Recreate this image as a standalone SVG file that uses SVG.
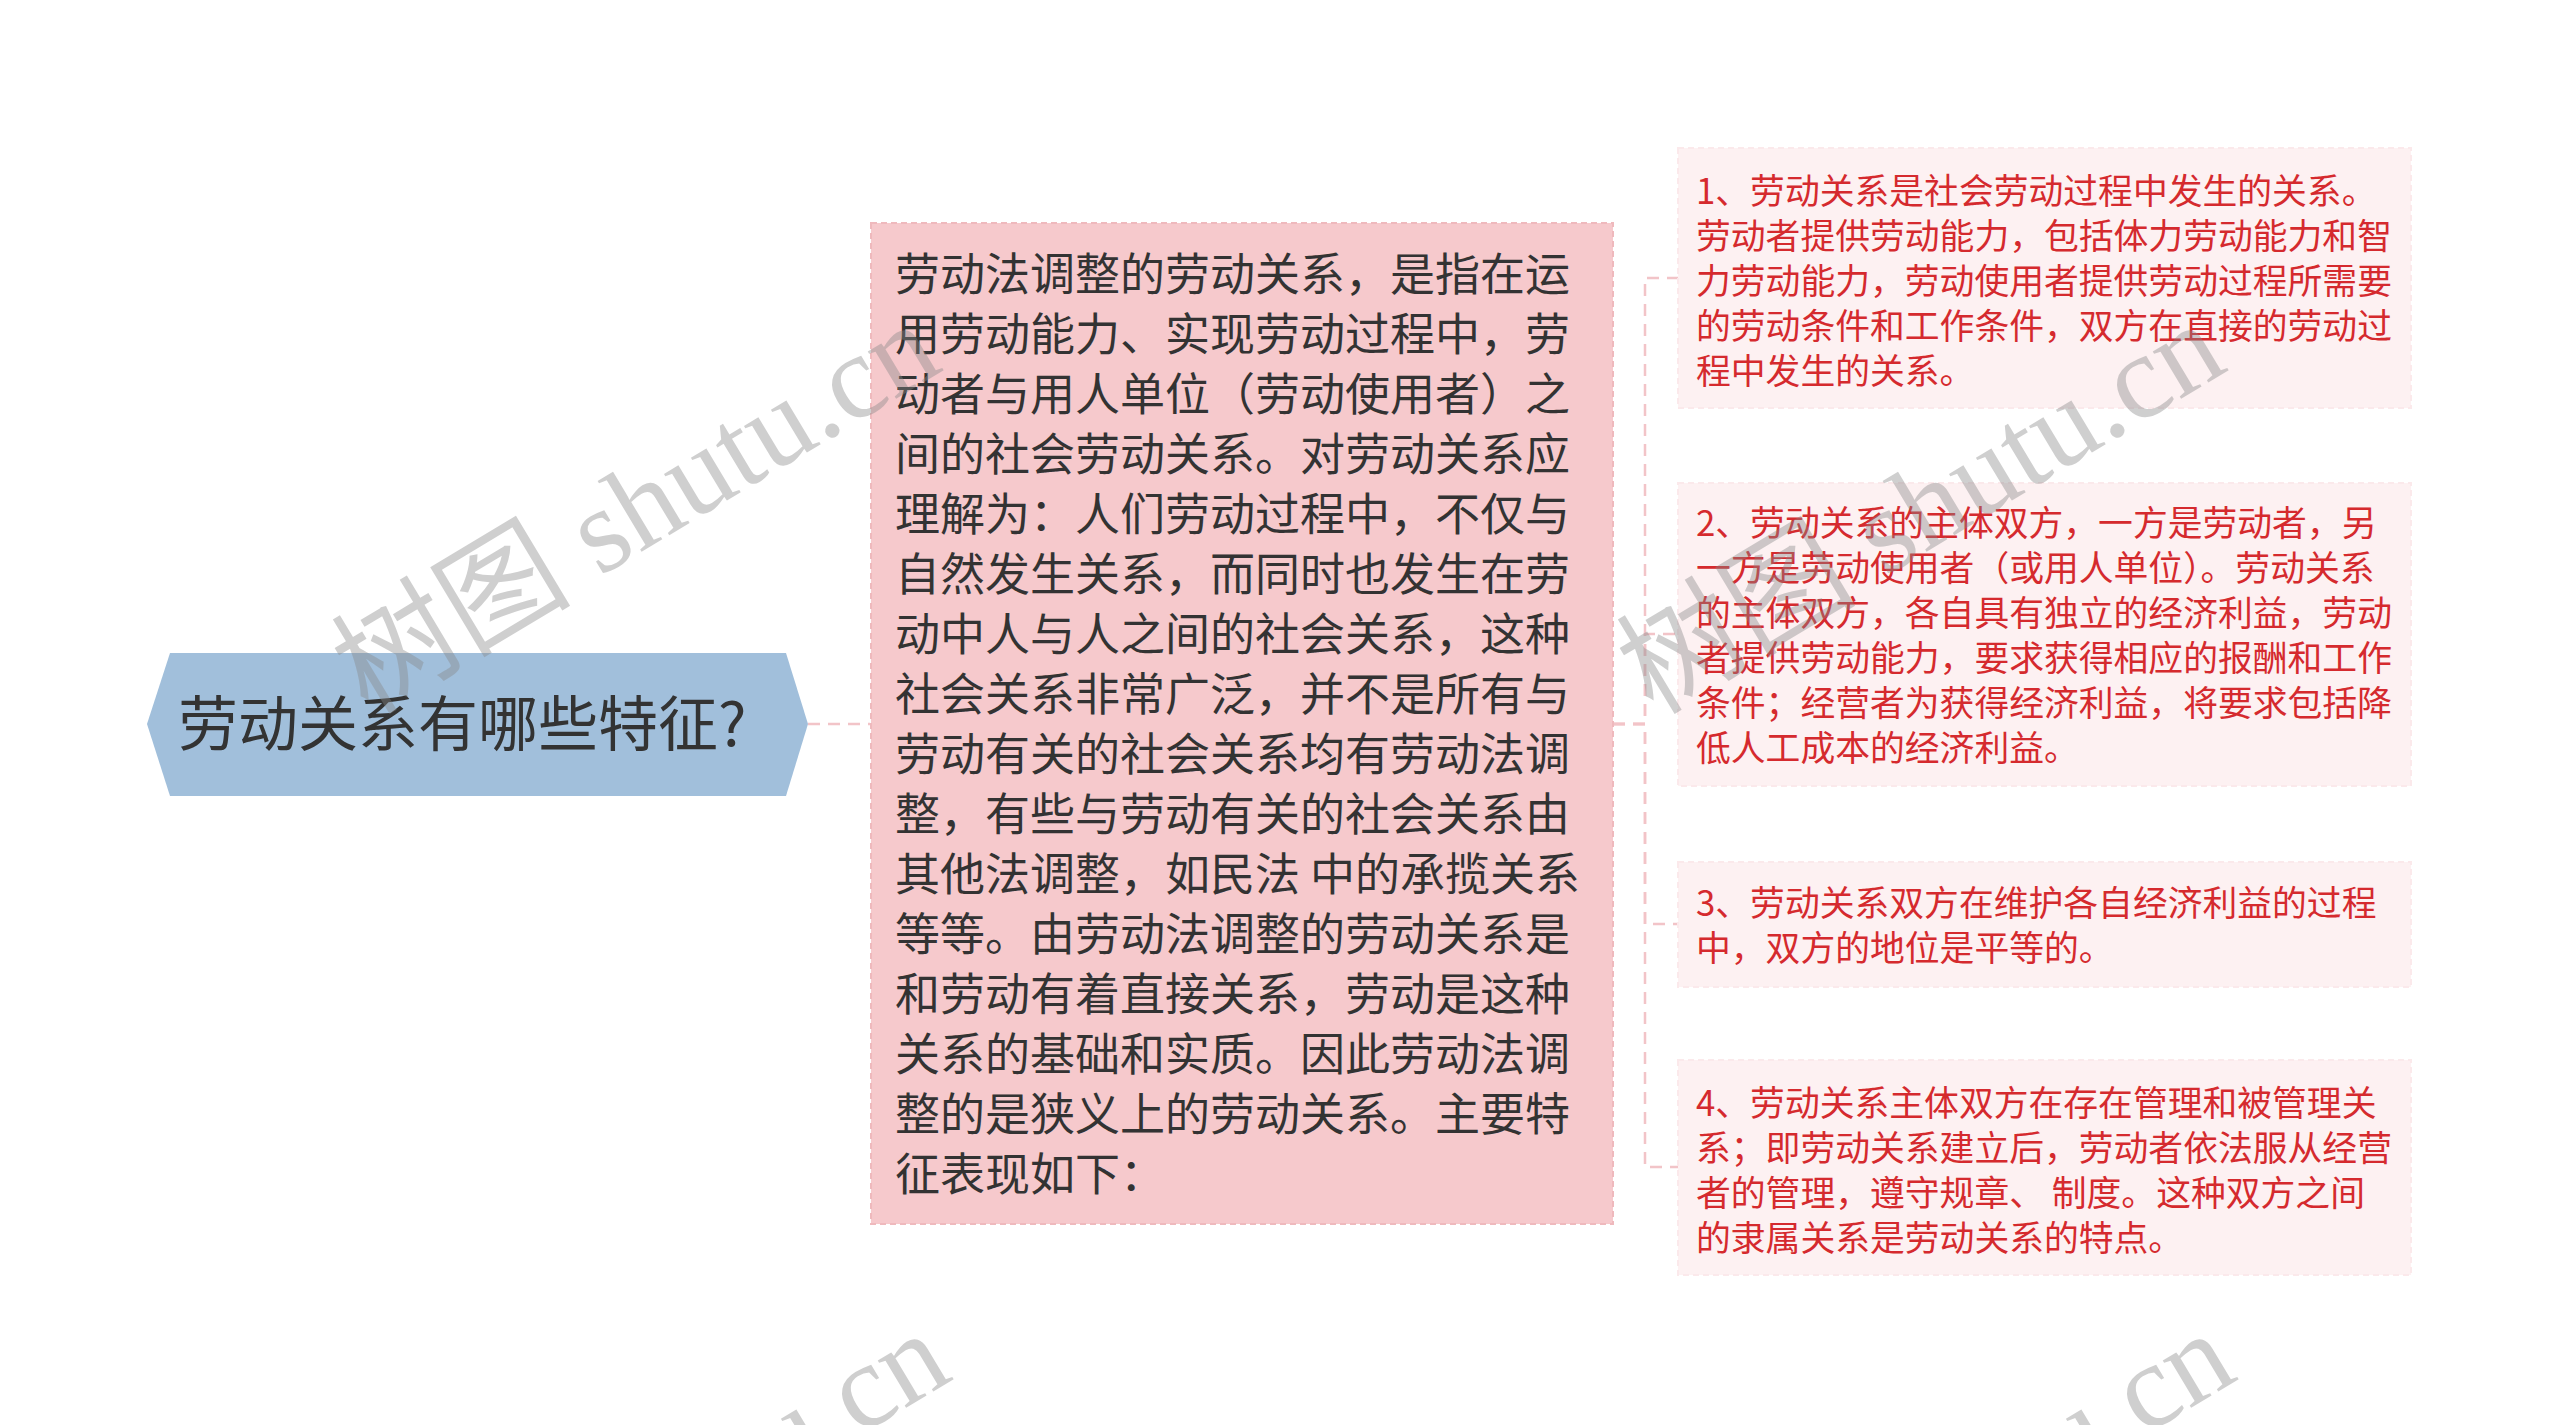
<svg xmlns="http://www.w3.org/2000/svg" width="2560" height="1425" viewBox="0 0 2560 1425">
<style>
.bg{fill:#ffffff}
.conn{fill:none;stroke:#f2c4c8;stroke-width:2.5;stroke-dasharray:12 8}
.root{fill:#a1bfdb}
.rootText{font-family:"Noto Sans CJK SC","Noto Sans",sans-serif;font-size:60px;fill:#333333}
.mid{fill:#f6c9cc;stroke:#efb9bd;stroke-width:2;stroke-dasharray:6 4}
.midText{font-family:"Noto Sans CJK SC","Noto Sans",sans-serif;font-size:45px;fill:#333333}
.leaf{fill:#fdf1f2;stroke:#fbe9eb;stroke-width:2;stroke-dasharray:6 4}
.leafText{font-family:"Noto Sans CJK SC","Noto Sans",sans-serif;font-size:34.8px;fill:#d52a2e}
.wm{font-family:"Liberation Serif","Noto Sans CJK SC",serif;font-size:120px;fill:#888888;opacity:0.4}
</style>
<rect class="bg" x="0" y="0" width="2560" height="1425"/>
<g id="connectors">
<path class="conn" d="M808 724 H870"/>
<path class="conn" d="M1613 724 H1645 V278 H1678"/>
<path class="conn" d="M1613 724 H1645 V634 H1678"/>
<path class="conn" d="M1613 724 H1645 V924 H1678"/>
<path class="conn" d="M1613 724 H1645 V1167 H1678"/>
</g>
<g id="node-root">
<polygon class="root" points="147,724 170,653 786,653 808,724 786,796 170,796"/>
<text class="rootText" x="178" y="746">劳动关系有哪些特征?</text>
</g>
<g id="node-main">
<rect class="mid" x="871" y="223" width="742" height="1001"/>
<text class="midText">
<tspan x="895" y="291">劳动法调整的劳动关系，是指在运</tspan>
<tspan x="895" y="351">用劳动能力、实现劳动过程中，劳</tspan>
<tspan x="895" y="411">动者与用人单位（劳动使用者）之</tspan>
<tspan x="895" y="471">间的社会劳动关系。对劳动关系应</tspan>
<tspan x="895" y="531">理解为：人们劳动过程中，不仅与</tspan>
<tspan x="895" y="591">自然发生关系，而同时也发生在劳</tspan>
<tspan x="895" y="651">动中人与人之间的社会关系，这种</tspan>
<tspan x="895" y="711">社会关系非常广泛，并不是所有与</tspan>
<tspan x="895" y="771">劳动有关的社会关系均有劳动法调</tspan>
<tspan x="895" y="831">整，有些与劳动有关的社会关系由</tspan>
<tspan x="895" y="891">其他法调整，如民法 中的承揽关系</tspan>
<tspan x="895" y="951">等等。由劳动法调整的劳动关系是</tspan>
<tspan x="895" y="1011">和劳动有着直接关系，劳动是这种</tspan>
<tspan x="895" y="1071">关系的基础和实质。因此劳动法调</tspan>
<tspan x="895" y="1131">整的是狭义上的劳动关系。主要特</tspan>
<tspan x="895" y="1191">征表现如下：</tspan>
</text>
</g>
<g id="node-1">
<rect class="leaf" x="1678" y="148" width="733" height="260"/>
<text class="leafText">
<tspan x="1696" y="204">1、劳动关系是社会劳动过程中发生的关系。</tspan>
<tspan x="1696" y="249">劳动者提供劳动能力，包括体力劳动能力和智</tspan>
<tspan x="1696" y="294">力劳动能力，劳动使用者提供劳动过程所需要</tspan>
<tspan x="1696" y="339">的劳动条件和工作条件，双方在直接的劳动过</tspan>
<tspan x="1696" y="384">程中发生的关系。</tspan>
</text>
</g>
<g id="node-2">
<rect class="leaf" x="1678" y="483" width="733" height="303"/>
<text class="leafText">
<tspan x="1696" y="536">2、劳动关系的主体双方，一方是劳动者，另</tspan>
<tspan x="1696" y="581">一方是劳动使用者（或用人单位）。劳动关系</tspan>
<tspan x="1696" y="626">的主体双方，各自具有独立的经济利益，劳动</tspan>
<tspan x="1696" y="671">者提供劳动能力，要求获得相应的报酬和工作</tspan>
<tspan x="1696" y="716">条件；经营者为获得经济利益，将要求包括降</tspan>
<tspan x="1696" y="761">低人工成本的经济利益。</tspan>
</text>
</g>
<g id="node-3">
<rect class="leaf" x="1678" y="862" width="733" height="125"/>
<text class="leafText">
<tspan x="1696" y="916">3、劳动关系双方在维护各自经济利益的过程</tspan>
<tspan x="1696" y="961">中，双方的地位是平等的。</tspan>
</text>
</g>
<g id="node-4">
<rect class="leaf" x="1678" y="1060" width="733" height="215"/>
<text class="leafText">
<tspan x="1696" y="1116">4、劳动关系主体双方在存在管理和被管理关</tspan>
<tspan x="1696" y="1161">系；即劳动关系建立后，劳动者依法服从经营</tspan>
<tspan x="1696" y="1206">者的管理，遵守规章、 制度。这种双方之间</tspan>
<tspan x="1696" y="1251">的隶属关系是劳动关系的特点。</tspan>
</text>
</g>
<g id="watermarks">
<text class="wm" transform="translate(368,716) rotate(-31)">树图 shutu.cn</text>
<text class="wm" transform="translate(1653,716) rotate(-31)">树图 shutu.cn</text>
<text class="wm" transform="translate(378,1725) rotate(-31)">树图 shutu.cn</text>
<text class="wm" transform="translate(1663,1725) rotate(-31)">树图 shutu.cn</text>
</g>
</svg>
